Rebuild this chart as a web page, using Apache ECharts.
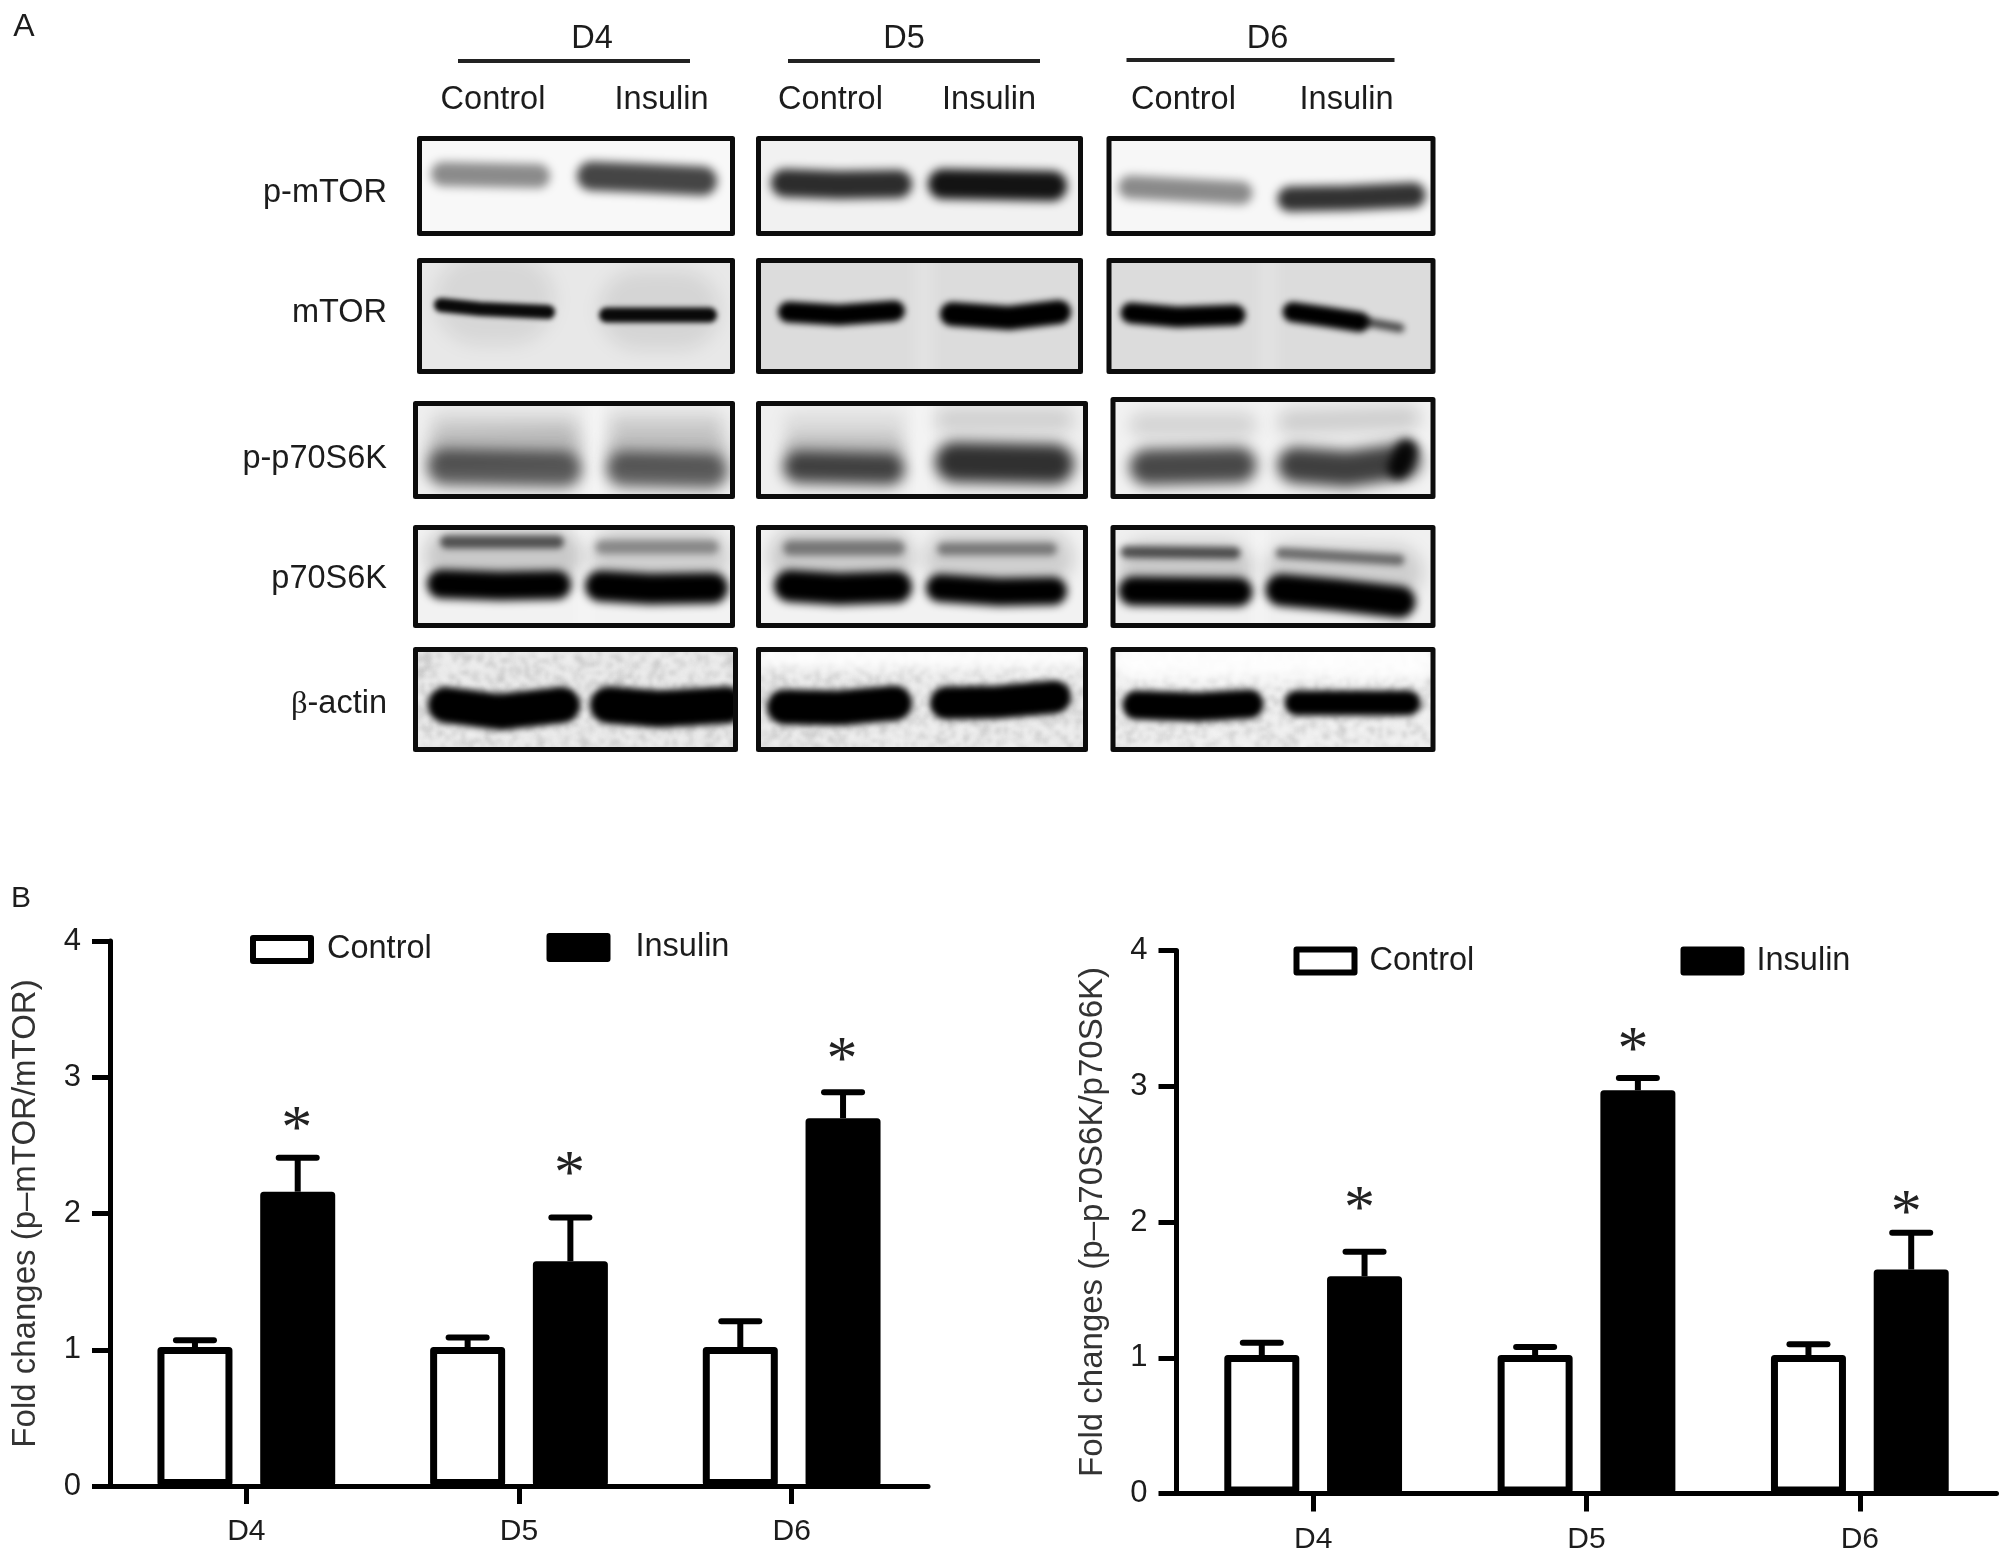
<!DOCTYPE html>
<html><head><meta charset="utf-8">
<style>html,body{margin:0;padding:0;background:#fff}#c{width:2008px;height:1558px}</style>
<script src="https://cdn.jsdelivr.net/npm/echarts@6/dist/echarts.min.js"></script>
</head><body><div id="c"></div>
<script>
// ---- chart values ----
const categories = ['D4', 'D5', 'D6'];
const yTicksMax = 4;
const mtorControl = [1.02, 1.02, 1.02];
const mtorControlTop = [1.07, 1.09, 1.21];
const mtorInsulin = [2.16, 1.65, 2.70];
const mtorInsulinTop = [2.41, 1.97, 2.89];
const mtorStars = [2.68, 2.35, 3.19];
const s6kControl = [1.02, 1.02, 1.02];
const s6kControlTop = [1.11, 1.08, 1.10];
const s6kInsulin = [1.60, 2.97, 1.65];
const s6kInsulinTop = [1.78, 3.06, 1.92];
const s6kStars = [2.16, 3.33, 2.13];
const mtorTitle = 'Fold changes (p\u2013mTOR/mTOR)';
const s6kTitle = 'Fold changes (p\u2013p70S6K/p70S6K)';
const legendNames = ['Control', 'Insulin'];
const rowLabels = ['p-mTOR', 'mTOR', 'p-p70S6K', 'p70S6K', '{g|\u03b2}-actin'];

// ---- western blot picture (panel A): box + bands [width, alpha, blur, x,y, x,y ...] ----
const blotPanels = [
 {box:[417,136,735,236],bg:'#f8f8f8',bands:[[24,.44,5,431,174,550,176],[29,.72,5,577,176,640,178,717,181]]},
 {box:[757,136,1084,236],bg:'#f1f1f1',bands:[[28,.82,5,772,183,840,185,913,184],[30,.92,5,929,184,1068,186]]},
 {box:[1109,136,1438,236],bg:'#f7f7f7',bands:[[23,.44,5,1121,187,1255,193],[25,.8,5,1280,199,1350,198,1428,195]]},

 {box:[417,258,735,374],bg:'#e8e8e8',bands:[[90,.07,9,434,300,555,300],[80,.08,9,599,310,720,310],[14,.96,2.5,434,305,480,309,555,312],[15,.96,2.5,599,315,717,315]]},
 {box:[757,258,1084,374],bg:'#dcdcdc',gutter:[915,935,.2],bands:[[21,1,3,779,312,840,315,906,311],[24,1,3,941,314,1010,318,1072,312]]},
 {box:[1109,258,1438,374],bg:'#dcdcdc',gutter:[1262,1280,.2],bands:[[21,1,3,1123,313,1180,317,1248,315],[20,1,3,1285,312,1330,317,1372,322],[9,.65,3,1365,322,1407,328]]},

 {box:[413,401,735,499],bg:'#efefef',gutter:[590,602,.5],bands:[[26,.1,8,430,425,580,425],[24,.12,8,608,425,725,425],[34,.2,8,427,448,582,446],[34,.2,8,606,450,728,450],[36,.62,7,427,467,582,469],[35,.6,7,606,469,728,471]]},
 {box:[757,401,1089,499],bg:'#efefef',gutter:[915,930,.4],bands:[[24,.08,8,784,425,906,425],[26,.12,8,936,420,1075,420],[28,.18,7,784,448,906,448],[32,.72,7,784,467,906,469],[40,.8,7,936,462,1075,464]]},
 {box:[1113,397,1438,499],bg:'#f2f2f2',bands:[[26,.12,8,1132,425,1259,425],[26,.14,8,1280,422,1423,418],[36,.7,7,1132,467,1259,465],[36,.74,7,1280,465,1350,469,1423,461],[22,.9,5,1390,468,1420,450]]},

 {box:[413,525,735,628],bg:'#f2f2f2',gutter:[578,590,.3],bands:[[54,.17,8,425,556,582,556],[54,.14,8,590,556,730,556],[13,.6,3,440,542,564,542],[14,.34,3.5,595,547,719,547],[29,1,4,427,584,500,586,571,585],[31,1,4,585,586,650,589,728,588]]},
 {box:[757,525,1089,628],bg:'#f2f2f2',bands:[[54,.16,8,770,556,915,556],[54,.14,8,925,558,1075,558],[15,.42,3.5,784,548,906,548],[13,.42,3.5,938,549,1058,549],[32,1,4,775,586,840,589,913,587],[28,1,4,927,588,1000,592,1068,591]]},
 {box:[1113,525,1438,628],bg:'#f0f0f0',gutter:[1258,1266,.5],bands:[[54,.16,8,1121,568,1255,568],[54,.14,8,1268,570,1425,572],[12,.62,3,1123,552,1243,553],[11,.48,3,1278,553,1407,560],[29,1,4,1121,591,1255,592],[32,1,4,1268,590,1340,595,1418,602]]},

 {box:[413,647,738,752],bg:'#e8e8e8',mottle:true,bands:[[36,1,3,428,705,500,712,580,705],[37,1,3,590,705,660,709,745,705]]},
 {box:[757,647,1089,752],bg:'#eaeaea',mottle:true,bands:[[26,-.9,7,757,656,1089,656],[35,1,3,768,707,840,708,913,703],[33,1,3,931,703,1000,702,1072,697]]},
 {box:[1113,647,1438,752],bg:'#eeeeee',mottle:true,bands:[[40,-.9,7,1113,660,1438,660],[29,1,3,1125,705,1200,707,1266,704],[25,1,3,1287,703,1423,703]]}
];

// the D5 and D6 columns sit a little left of their first reading
function colShift(x) { return x >= 1100 ? -2.5 : (x >= 750 ? -1 : 0); }

function paintBlots() {
  const cv = document.createElement('canvas');
  cv.width = 2008; cv.height = 780;
  const ctx = cv.getContext('2d');
  blotPanels.forEach(function (pn) {
    const b = pn.box, dx = colShift(b[0]);
    ctx.save();
    ctx.translate(dx, 0);
    ctx.beginPath(); ctx.rect(b[0], b[1], b[2] - b[0], b[3] - b[1]); ctx.clip();
    ctx.fillStyle = pn.bg; ctx.fillRect(b[0], b[1], b[2] - b[0], b[3] - b[1]);
    if (pn.mottle) {
      ctx.filter = 'blur(2px)';
      for (let y = b[1]; y < b[3]; y += 4) for (let x = b[0]; x < b[2]; x += 4) {
        const h = Math.sin(x * 12.9898 + y * 78.233) * 43758.5453;
        const v = (h - Math.floor(h)) - 0.5;
        ctx.fillStyle = v > 0 ? 'rgba(0,0,0,' + (v * 0.28) + ')' : 'rgba(255,255,255,' + (-v * 0.9) + ')';
        ctx.fillRect(x, y, 4, 4);
      }
    }
    if (pn.gutter) {
      ctx.filter = 'blur(7px)';
      ctx.fillStyle = 'rgba(255,255,255,' + pn.gutter[2] + ')';
      ctx.fillRect(pn.gutter[0], b[1] - 20, pn.gutter[1] - pn.gutter[0], b[3] - b[1] + 40);
    }
    pn.bands.forEach(function (d) {
      const w = d[0], a = d[1], n = (d.length - 3) / 2;
      ctx.filter = 'blur(' + d[2] + 'px)';
      ctx.lineCap = 'round'; ctx.lineJoin = 'round'; ctx.lineWidth = w;
      ctx.strokeStyle = a >= 0 ? 'rgba(0,0,0,' + a + ')' : 'rgba(255,255,255,' + (-a) + ')';
      ctx.beginPath();
      for (let i = 0; i < n; i++) {
        let x = d[3 + 2 * i]; const y = d[4 + 2 * i];
        if (i === 0) x += w / 2; if (i === n - 1) x -= w / 2;
        if (i === 0) ctx.moveTo(x, y); else ctx.lineTo(x, y);
      }
      ctx.stroke();
    });
    ctx.restore();
  });
  return cv;
}

// ---- chart ----
const sans = '"Liberation Sans", Arial, sans-serif';
const ink = '#1c1c1c';
const chart = echarts.init(document.getElementById('c'), null, {renderer: 'canvas'});

function txt(text, x, y, align, size) {
  return {type: 'text', x: x + colShift(x), y: y, silent: true, style: {
    text: text, fontFamily: sans, fontSize: size || 32.5, fill: ink, align: align || 'center', verticalAlign: 'middle',
    rich: {g: {fontFamily: '"Liberation Serif", serif', fontSize: 32.5, fill: ink}}
  }};
}
function rule(x1, x2, y) {
  const s = colShift(x1);
  return {type: 'line', silent: true, shape: {x1: x1 + s, y1: y, x2: x2 + s, y2: y}, style: {stroke: '#222', lineWidth: 4}};
}
const graphics = [{type: 'image', silent: true, z: -1, style: {image: paintBlots(), x: 0, y: 0, width: 2008, height: 780}}];
blotPanels.forEach(function (pn) {
  const b = pn.box, s = colShift(b[0]);
  graphics.push({type: 'rect', silent: true,
    shape: {x: b[0] + 2.5 + s, y: b[1] + 2.5, width: b[2] - b[0] - 5, height: b[3] - b[1] - 5},
    style: {fill: 'none', stroke: '#0c0c0c', lineWidth: 5, lineJoin: 'round'}});
});
graphics.push(
  txt('A', 24, 27, 'center', 32), txt('B', 21, 899, 'center', 30),
  txt(categories[0], 592, 39), txt(categories[1], 905, 39), txt(categories[2], 1270, 39),
  rule(458, 690, 61), rule(789, 1041, 61), rule(1129, 1397, 60),
  txt(legendNames[0], 493, 100), txt(legendNames[1], 661.5, 100),
  txt(legendNames[0], 831.5, 100), txt(legendNames[1], 990, 100),
  txt(legendNames[0], 1186, 100), txt(legendNames[1], 1349, 100),
  txt(rowLabels[0], 387, 193, 'right'), txt(rowLabels[1], 387, 313, 'right'),
  txt(rowLabels[2], 387, 459, 'right'), txt(rowLabels[3], 387, 579, 'right'),
  txt(rowLabels[4], 387, 704, 'right')
);

const BAR_W = 75, GAP = 0.37, STAR_DY = 10;
function rows(vals) { return vals.map(function (v, i) { return [i, v]; }); }
function errRows(base, top) { return base.map(function (v, i) { return [i, v, top[i]]; }); }
function errRender(side) {
  return function (params, api) {
    const off = side * BAR_W * (1 + GAP) / 2;
    const a = api.coord([api.value(0), api.value(1)]);
    const b = api.coord([api.value(0), api.value(2)]);
    const x = a[0] + off;
    const st = {stroke: '#000', lineWidth: 6, lineCap: 'round'};
    return {type: 'group', children: [
      {type: 'line', shape: {x1: x, y1: a[1], x2: x, y2: b[1]}, style: {stroke: '#000', lineWidth: 6}},
      {type: 'line', shape: {x1: x - 19, y1: b[1], x2: x + 19, y2: b[1]}, style: st}
    ]};
  };
}
function starRender(nudge) {
  return function (params, api) {
    const p = api.coord([api.value(0), api.value(1)]);
    return {type: 'text', style: {text: '*', x: p[0] + BAR_W * (1 + GAP) / 2 + nudge, y: p[1] + STAR_DY,
      fontFamily: '"Liberation Serif", serif', fontSize: 62, fill: '#222', align: 'center', verticalAlign: 'middle'}};
  };
}
function seriesFor(idx, ctrl, ctrlTop, ins, insTop, stars, nudge) {
  const ax = {xAxisIndex: idx, yAxisIndex: idx};
  return [
    Object.assign({type: 'bar', name: legendNames[0], data: ctrl, barWidth: BAR_W, barGap: (GAP * 100) + '%',
      itemStyle: {color: '#fff', borderColor: '#000', borderWidth: 7, borderJoin: 'round'}}, ax),
    Object.assign({type: 'bar', name: legendNames[1], data: ins, barWidth: BAR_W, barGap: (GAP * 100) + '%',
      itemStyle: {color: '#000', borderColor: '#000', borderWidth: 7, borderJoin: 'round'}}, ax),
    Object.assign({type: 'custom', renderItem: errRender(-1), data: errRows(ctrl, ctrlTop), encode: {x: 0, y: [1, 2]}, z: 1, clip: false}, ax),
    Object.assign({type: 'custom', renderItem: errRender(1), data: errRows(ins, insTop), encode: {x: 0, y: [1, 2]}, z: 1, clip: false}, ax),
    Object.assign({type: 'custom', renderItem: starRender(nudge), data: rows(stars), encode: {x: 0, y: 1}, clip: false}, ax)
  ];
}
function xAxis(gridIndex) {
  return {type: 'category', gridIndex: gridIndex, data: categories,
    axisLine: {onZero: false, lineStyle: {color: '#000', width: 5}},
    axisTick: {show: true, alignWithLabel: true, length: 18, lineStyle: {color: '#000', width: 5}},
    axisLabel: {color: ink, fontSize: 30, fontFamily: sans, margin: 31}};
}
function yAxis(gridIndex, title, gap) {
  return {type: 'value', gridIndex: gridIndex, min: 0, max: yTicksMax, interval: 1,
    name: title, nameLocation: 'middle', nameRotate: 90, nameGap: gap,
    nameTextStyle: {color: '#333', fontSize: 33, fontFamily: sans},
    splitLine: {show: false},
    axisLine: {show: true, lineStyle: {color: '#000', width: 5}},
    axisTick: {show: true, length: 18, lineStyle: {color: '#000', width: 5}},
    axisLabel: {color: ink, fontSize: 31, fontFamily: sans, margin: 29, padding: [4, 0, 0, 0]}};
}
function legend(name, left, top, padLeft) {
  return {data: [name], left: left, top: top, orient: 'horizontal', padding: 0, selectedMode: false,
    itemWidth: 58, itemHeight: 23, icon: 'rect',
    itemStyle: {borderWidth: 6, borderColor: '#000', borderJoin: 'round'},
    textStyle: {color: ink, fontSize: 32.5, fontFamily: sans, padding: [0, 0, 0, padLeft]}};
}

chart.setOption({
  animation: false,
  backgroundColor: '#fff',
  grid: [
    {left: 110, top: 941, width: 818, height: 545},
    {left: 1176.5, top: 950.5, width: 820, height: 543}
  ],
  xAxis: [xAxis(0), xAxis(1)],
  yAxis: [yAxis(0, mtorTitle, 68), yAxis(1, s6kTitle, 67.5)],
  legend: [
    legend(legendNames[0], 250, 933, 11), legend(legendNames[1], 546.5, 931, 23),
    legend(legendNames[0], 1293.5, 944.5, 10), legend(legendNames[1], 1680.5, 944.5, 10)
  ],
  tooltip: {show: false},
  graphic: {elements: graphics},
  series: seriesFor(0, mtorControl, mtorControlTop, mtorInsulin, mtorInsulinTop, mtorStars, -1)
    .concat(seriesFor(1, s6kControl, s6kControlTop, s6kInsulin, s6kInsulinTop, s6kStars, -5))
});
</script></body></html>
